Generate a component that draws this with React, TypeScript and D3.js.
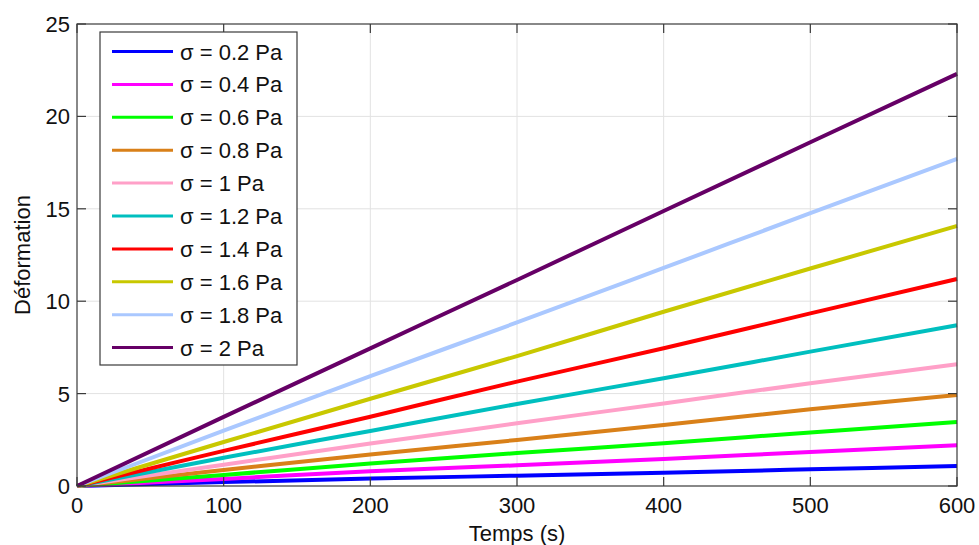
import React from "react";
import * as d3 from "d3";

const times = [0, 100, 200, 300, 400, 500, 600];
const labels = ["σ = 0.2 Pa", "σ = 0.4 Pa", "σ = 0.6 Pa", "σ = 0.8 Pa", "σ = 1 Pa", "σ = 1.2 Pa", "σ = 1.4 Pa", "σ = 1.6 Pa", "σ = 1.8 Pa", "σ = 2 Pa"];
const colors = ["#0000ff", "#ff00ff", "#00ff00", "#d98019", "#ffa0c8", "#00bfbf", "#ff0000", "#c8c800", "#aac8ff", "#660066"];
const s02 = [0, 0.21, 0.4, 0.56, 0.72, 0.9, 1.08];
const s04 = [0, 0.38, 0.8, 1.12, 1.46, 1.84, 2.2];
const s06 = [0, 0.6, 1.22, 1.78, 2.31, 2.9, 3.46];
const s08 = [0, 0.86, 1.71, 2.49, 3.3, 4.15, 4.92];
const s10 = [0, 1.15, 2.3, 3.39, 4.47, 5.56, 6.59];
const s12 = [0, 1.53, 2.98, 4.44, 5.83, 7.27, 8.7];
const s14 = [0, 1.9, 3.75, 5.65, 7.45, 9.34, 11.2];
const s16 = [0, 2.38, 4.72, 7.03, 9.43, 11.77, 14.07];
const s18 = [0, 3.0, 5.95, 8.85, 11.8, 14.76, 17.7];
const s20 = [0, 3.74, 7.45, 11.15, 14.88, 18.6, 22.3];
const series = [s02, s04, s06, s08, s10, s12, s14, s16, s18, s20];
const xTicks = [0, 100, 200, 300, 400, 500, 600];
const yTicks = [0, 5, 10, 15, 20, 25];

export default function App() {
  const W = 979, H = 545;
  const L = 77, R = 957, T = 24, B = 486;
  const x = d3.scaleLinear().domain([0, 600]).range([L, R]);
  const y = d3.scaleLinear().domain([0, 25]).range([B, T]);
  const line = d3.line<number>().x((_, i) => x(times[i])).y((d) => y(d)).curve(d3.curveMonotoneX);
  const font = "Arial, 'Liberation Sans', Helvetica, sans-serif";
  const tl = 9;
  const legX = 100, legY = 32, legW = 197, step = 32.9;
  const legH = step * 10 + 4;
  return (
    <svg width={W} height={H} style={{ position: "absolute", left: 0, top: 0, background: "#fff" }} fontFamily={font}>
      <rect x={0} y={0} width={W} height={H} fill="#fff" />
      {xTicks.slice(1, -1).map((t) => (
        <line key={"gx" + t} x1={x(t)} x2={x(t)} y1={T} y2={B} stroke="#e2e2e2" strokeWidth={1} />
      ))}
      {yTicks.slice(1, -1).map((t) => (
        <line key={"gy" + t} x1={L} x2={R} y1={y(t)} y2={y(t)} stroke="#e2e2e2" strokeWidth={1} />
      ))}
      {series.map((s, i) => (
        <path key={i} d={line(s) || ""} fill="none" stroke={colors[i]} strokeWidth={4} strokeLinejoin="round" />
      ))}
      <rect x={L} y={T} width={R - L} height={B - T} fill="none" stroke="#3a3a3a" strokeWidth={1.2} />
      {xTicks.map((t) => (
        <g key={"xt" + t}>
          <line x1={x(t)} x2={x(t)} y1={B} y2={B - tl} stroke="#3a3a3a" strokeWidth={1.2} />
          <line x1={x(t)} x2={x(t)} y1={T} y2={T + tl} stroke="#3a3a3a" strokeWidth={1.2} />
          <text x={x(t)} y={B + 27} fontSize={22} textAnchor="middle" fill="#111">{t}</text>
        </g>
      ))}
      {yTicks.map((t) => (
        <g key={"yt" + t}>
          <line x1={L} x2={L + tl} y1={y(t)} y2={y(t)} stroke="#3a3a3a" strokeWidth={1.2} />
          <line x1={R} x2={R - tl} y1={y(t)} y2={y(t)} stroke="#3a3a3a" strokeWidth={1.2} />
          <text x={L - 7} y={y(t) + 8} fontSize={22} textAnchor="end" fill="#111">{t}</text>
        </g>
      ))}
      <text x={(L + R) / 2} y={541} fontSize={22} textAnchor="middle" fill="#111">Temps (s)</text>
      <text transform={`translate(30, ${(T + B) / 2}) rotate(-90)`} fontSize={22} textAnchor="middle" fill="#111">Déformation</text>
      <rect x={legX} y={legY} width={legW} height={legH} fill="#fff" stroke="#3a3a3a" strokeWidth={1.2} />
      {labels.map((lab, i) => {
        const cy = legY + 19.5 + i * step;
        return (
          <g key={"lg" + i}>
            <line x1={112} x2={173} y1={cy} y2={cy} stroke={colors[i]} strokeWidth={3} />
            <text x={180} y={cy + 8} fontSize={22} fill="#111">{lab}</text>
          </g>
        );
      })}
    </svg>
  );
}
